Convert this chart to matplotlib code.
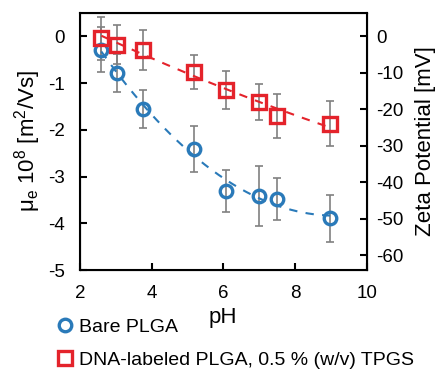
import numpy as np
import matplotlib
matplotlib.use("Agg")
import matplotlib.pyplot as plt

plt.rcParams['font.family'] = ['Liberation Sans', 'DejaVu Sans']
plt.rcParams['mathtext.fontset'] = 'custom'
plt.rcParams['mathtext.rm'] = 'Liberation Sans'
plt.rcParams['mathtext.it'] = 'Liberation Sans'

# data
ph = [2.6, 3.05, 3.75, 5.18, 6.08, 6.99, 7.49, 8.98]
bare_mu = [-0.29, -0.78, -1.55, -2.41, -3.30, -3.41, -3.48, -3.89]
bare_err = [0.48, 0.41, 0.41, 0.50, 0.45, 0.64, 0.45, 0.50]
dna_mu = [-0.04, -0.18, -0.29, -0.76, -1.15, -1.40, -1.70, -1.87]
dna_err = [0.46, 0.42, 0.43, 0.36, 0.41, 0.39, 0.47, 0.48]

blue = '#2a7ab9'
red = '#e4232b'
grey = '#808080'

fig = plt.figure(figsize=(4.41, 3.69), dpi=100)
ax = fig.add_axes([0.181, 0.268, 0.6505, 0.697])

# trend lines (2nd order fit of each series)
xs = np.linspace(ph[0], ph[-1], 200)
for mu, c in [(bare_mu, blue), (dna_mu, red)]:
    p = np.polyfit(ph, mu, 2)
    ax.plot(xs, np.polyval(p, xs), color=c, lw=1.5, dashes=(4, 4), zorder=2)

ax.errorbar(ph, bare_mu, yerr=bare_err, fmt='none', ecolor=grey, elinewidth=1.2,
            capsize=3, capthick=1.2, zorder=1)
ax.errorbar(ph, dna_mu, yerr=dna_err, fmt='none', ecolor=grey, elinewidth=1.2,
            capsize=3, capthick=1.2, zorder=1)
l1, = ax.plot(ph, bare_mu, 'o', mfc='none', mec=blue, mew=2.4, ms=9, zorder=3,
              label='Bare PLGA')
l2, = ax.plot(ph, dna_mu, 's', mfc='none', mec=red, mew=2.4, ms=9.5, zorder=3,
              label='DNA-labeled PLGA, 0.5 % (w/v) TPGS')

ax.set_xlim(2, 10)
ax.set_ylim(-5, 0.5)
ax.set_xticks([2, 4, 6, 8, 10])
ax.set_yticks([-5, -4, -3, -2, -1, 0])
ax.set_yticklabels(['-5', '-4', '-3', '-2', '-1', '0'])
ax.tick_params(direction='in', labelsize=13.5, width=1.5, length=5, pad=10.5)
for s in ax.spines.values():
    s.set_linewidth(1.5)
ax.set_xlabel('pH', fontsize=16, labelpad=4)
ax.set_ylabel(r'$\mathregular{\mu_e\ 10^8\ [m^2/Vs]}$', fontsize=16, labelpad=4)

ax2 = ax.twinx()
ax2.set_ylim(-64, 6.4)
ax2.set_yticks([-60, -50, -40, -30, -20, -10, 0])
ax2.set_yticklabels(['-60', '-50', '-40', '-30', '-20', '-10', '0'])
ax2.tick_params(direction='in', labelsize=13.5, width=1.5, length=5, pad=7)
ax2.set_ylabel('Zeta Potential [mV]', fontsize=16, labelpad=8)

fig.legend(handles=[l1, l2], loc='upper left', bbox_to_anchor=(0.134, 0.138),
           frameon=False, fontsize=14, handlelength=0.6, handletextpad=0.43,
           labelspacing=0.8, borderaxespad=0, borderpad=0)

fig.savefig('out.png', dpi=100)
